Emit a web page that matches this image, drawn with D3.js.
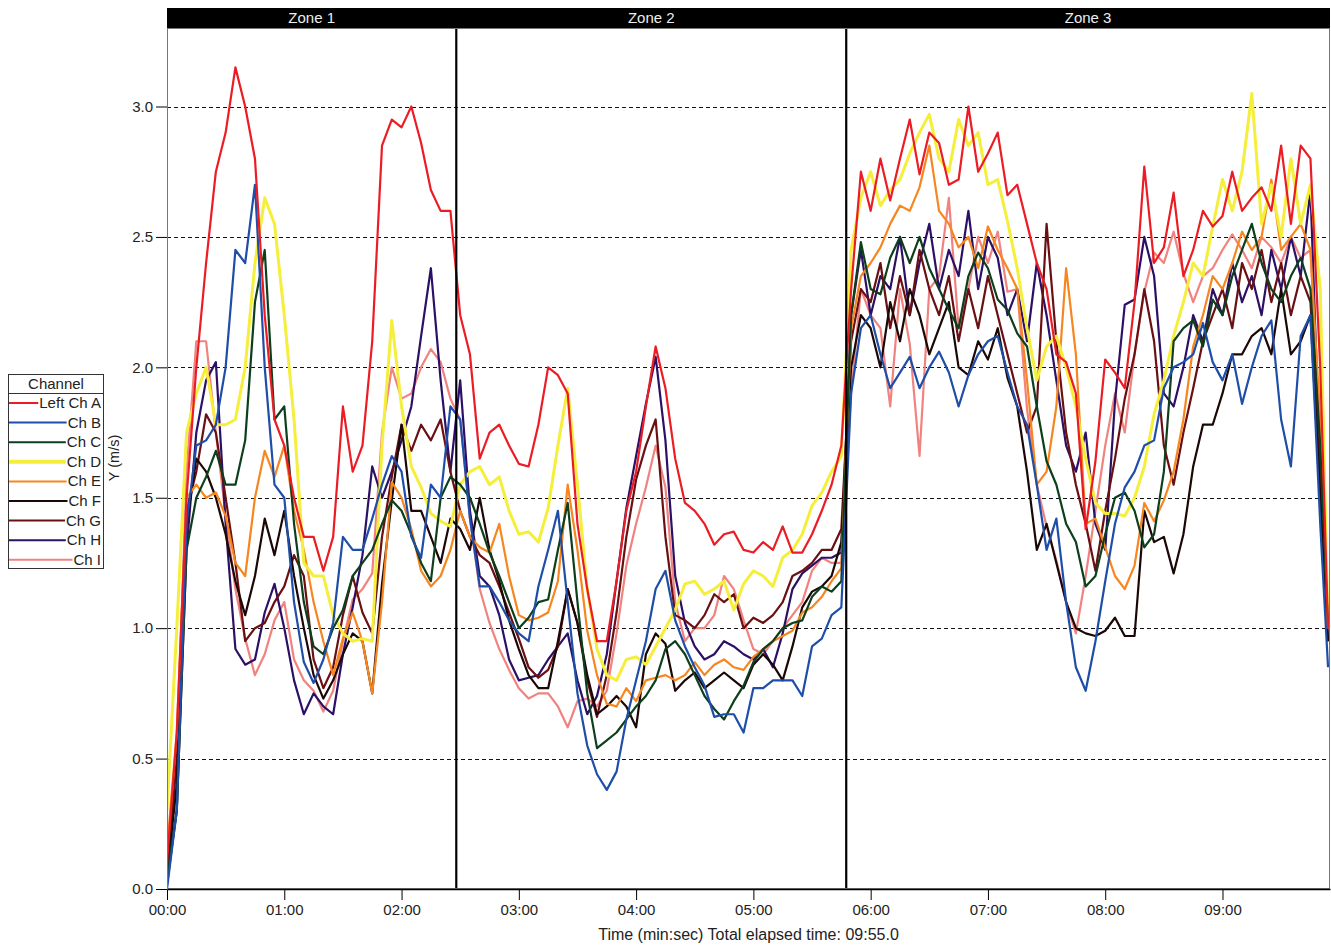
<!DOCTYPE html>
<html><head><meta charset="utf-8">
<script src="https://cdn.jsdelivr.net/npm/d3@7"></script>
<style>
body{margin:0;background:#fff}
svg{display:block}
text{font-family:"Liberation Sans",Arial,sans-serif}
</style>
</head><body>
<svg id="chart" width="1331" height="946"></svg>
<script>
// ---------- data ----------
const channels = ["Left Ch A","Ch B","Ch C","Ch D","Ch E","Ch F","Ch G","Ch H","Ch I"];
const channelColors = ["#ec1c24","#1f4ea8","#0d3f1c","#f5ee3a","#f7861f","#1c0707","#6a0f12","#2b1065","#f0837f"];
const zones = ["Zone 1","Zone 2","Zone 3"];
const zoneBounds = [0,148,347.5,595];
const yTicks = [0,0.5,1.0,1.5,2.0,2.5,3.0];
const xTicks = [0,60,120,180,240,300,360,420,480,540];
const xTickLabels = ["00:00","01:00","02:00","03:00","04:00","05:00","06:00","07:00","08:00","09:00"];
const times = [0,5,10,15,20,25,30,35,40,45,50,55,60,65,70,75,80,85,90,95,
  100,105,110,115,120,125,130,135,140,145,150,155,160,165,170,175,180,185,190,195,
  200,205,210,215,220,225,230,235,240,245,250,255,260,265,270,275,280,285,290,295,
  300,305,310,315,320,325,330,335,340,345,350,355,360,365,370,375,380,385,390,395,
  400,405,410,415,420,425,430,435,440,445,450,455,460,465,470,475,480,485,490,495,
  500,505,510,515,520,525,530,535,540,545,550,555,560,565,570,575,580,585,590,594];

const chA = [0.1,0.6,1.5,2.0,2.4,2.75,2.9,3.15,3.0,2.8,
  2.2,1.8,1.7,1.5,1.35,1.35,1.22,1.35,1.85,1.6,
  1.7,2.1,2.85,2.95,2.92,3.0,2.86,2.68,2.6,2.6,
  2.2,2.05,1.65,1.75,1.78,1.7,1.63,1.62,1.78,2.0,
  1.97,1.9,1.4,1.15,0.95,0.95,1.18,1.45,1.6,1.85,
  2.08,1.92,1.65,1.48,1.45,1.4,1.32,1.36,1.37,1.3,
  1.29,1.33,1.3,1.39,1.29,1.29,1.36,1.45,1.55,1.7,
  2.3,2.75,2.6,2.8,2.64,2.8,2.95,2.74,2.9,2.86,
  2.7,2.72,3.0,2.75,2.82,2.9,2.66,2.7,2.55,2.4,
  2.3,2.05,2.02,1.9,1.38,1.64,2.03,1.98,1.92,2.25,
  2.77,2.4,2.46,2.67,2.35,2.45,2.6,2.54,2.58,2.75,
  2.6,2.65,2.69,2.6,2.85,2.55,2.85,2.8,2.0,1.0];
const chB = [0.0,0.3,1.4,1.7,1.72,1.78,2.0,2.45,2.4,2.7,
  2.0,1.55,1.5,1.1,0.87,0.79,0.88,1.02,1.35,1.3,
  1.3,1.42,1.55,1.66,1.6,1.35,1.27,1.55,1.5,1.85,
  1.8,1.42,1.16,1.16,1.1,1.03,0.98,0.95,1.16,1.3,
  1.45,1.1,0.75,0.55,0.44,0.38,0.45,0.65,0.8,0.95,
  1.15,1.22,1.03,0.93,0.85,0.78,0.66,0.67,0.67,0.6,
  0.77,0.77,0.8,0.8,0.8,0.74,0.93,0.96,1.05,1.08,
  1.9,2.15,2.2,2.05,1.92,1.98,2.04,1.92,2.0,2.06,
  1.98,1.85,1.97,2.05,2.1,2.12,1.98,1.85,1.78,1.55,
  1.3,1.42,1.1,0.85,0.76,0.95,1.18,1.4,1.54,1.6,
  1.7,1.72,1.92,2.0,2.02,2.05,2.17,2.02,1.95,2.05,
  1.86,2.0,2.12,2.18,1.8,1.62,2.12,2.2,1.4,0.85];
const chC = [0.05,0.3,1.3,1.5,1.58,1.68,1.55,1.55,1.72,2.25,
  2.45,1.8,1.85,1.4,1.1,0.93,0.9,1.0,1.07,1.2,
  1.25,1.3,1.4,1.49,1.45,1.36,1.25,1.18,1.5,1.58,
  1.55,1.5,1.4,1.29,1.2,1.1,1.0,1.04,1.1,1.11,
  1.3,1.48,1.1,0.75,0.54,0.57,0.6,0.65,0.7,0.74,
  0.8,0.92,0.95,0.9,0.82,0.74,0.69,0.65,0.72,0.78,
  0.87,0.92,0.95,1.0,1.02,1.03,1.12,1.16,1.14,1.18,
  2.2,2.48,2.3,2.28,2.42,2.5,2.4,2.5,2.38,2.3,
  2.22,2.15,2.35,2.44,2.38,2.26,2.22,2.13,2.08,1.85,
  1.64,1.55,1.4,1.33,1.16,1.2,1.36,1.5,1.52,1.45,
  1.31,1.36,1.6,2.1,2.15,2.18,2.08,2.26,2.2,2.35,
  2.45,2.55,2.4,2.3,2.25,2.35,2.42,2.3,1.7,1.0];
const chD = [0.3,1.0,1.75,1.9,2.0,1.78,1.78,1.8,2.0,2.4,
  2.65,2.55,2.2,1.8,1.25,1.2,1.2,1.05,0.98,0.95,
  0.96,0.95,1.7,2.18,1.85,1.62,1.54,1.44,1.41,1.39,
  1.55,1.6,1.62,1.55,1.58,1.45,1.36,1.37,1.33,1.46,
  1.7,1.92,1.55,1.15,0.92,0.82,0.8,0.88,0.89,0.86,
  0.93,1.0,1.07,1.17,1.18,1.13,1.15,1.18,1.07,1.17,
  1.22,1.2,1.16,1.27,1.3,1.36,1.47,1.52,1.6,1.66,
  2.45,2.65,2.75,2.62,2.68,2.72,2.82,2.9,2.97,2.8,
  2.75,2.95,2.85,2.9,2.7,2.72,2.56,2.38,2.15,1.95,
  2.08,2.12,2.0,1.85,1.65,1.48,1.44,1.44,1.43,1.5,
  1.62,1.82,1.95,2.12,2.25,2.4,2.35,2.54,2.72,2.6,
  2.75,3.05,2.55,2.7,2.5,2.8,2.55,2.7,2.3,1.0];
const chE = [0.15,0.6,1.5,1.55,1.5,1.52,1.43,1.25,1.2,1.5,
  1.68,1.58,1.7,1.45,1.3,1.1,0.95,0.82,0.96,1.06,
  0.95,0.75,1.1,1.56,1.5,1.38,1.22,1.16,1.2,1.3,
  1.45,1.35,1.31,1.29,1.4,1.2,1.05,1.03,1.04,1.06,
  1.18,1.55,1.3,0.99,0.82,0.71,0.7,0.77,0.72,0.8,
  0.81,0.82,0.8,0.82,0.87,0.82,0.86,0.88,0.85,0.84,
  0.89,0.92,0.95,0.97,0.99,1.06,1.08,1.12,1.18,1.23,
  2.15,2.35,2.4,2.46,2.55,2.62,2.6,2.69,2.85,2.6,
  2.55,2.46,2.5,2.38,2.54,2.45,2.38,2.3,1.95,1.55,
  1.6,1.85,2.38,2.05,1.4,1.42,1.31,1.2,1.15,1.24,
  1.48,1.41,1.49,1.6,1.8,2.08,2.2,2.35,2.3,2.4,
  2.52,2.45,2.5,2.72,2.45,2.5,2.55,2.45,1.8,1.0];
const chF = [0.05,0.4,1.4,1.65,1.6,1.5,1.36,1.18,1.05,1.2,
  1.42,1.28,1.45,1.2,1.0,0.82,0.73,0.8,0.9,0.98,
  0.95,0.75,1.17,1.49,1.78,1.45,1.45,1.35,1.25,1.42,
  1.38,1.3,1.5,1.3,1.18,1.03,0.92,0.82,0.77,0.77,
  0.95,1.15,1.02,0.82,0.67,0.7,0.74,0.7,0.62,0.9,
  0.98,0.94,0.76,0.8,0.83,0.77,0.8,0.83,0.8,0.77,
  0.86,0.9,0.86,0.8,0.93,1.08,1.14,1.16,1.2,1.33,
  2.0,2.2,2.15,2.0,2.25,2.1,2.3,2.2,2.05,2.15,
  2.25,2.0,1.97,2.1,2.03,2.15,1.96,1.85,1.6,1.3,
  1.4,1.25,1.1,1.0,0.98,0.97,0.99,1.04,0.97,0.97,
  1.45,1.33,1.35,1.21,1.36,1.62,1.78,1.78,1.9,2.05,
  2.05,2.12,2.15,2.05,2.3,2.05,2.1,2.2,1.5,0.95];
const chG = [0.05,0.5,1.45,1.6,1.82,1.75,1.5,1.25,0.95,1.0,
  1.02,1.1,1.16,1.28,1.2,0.88,0.77,0.85,1.05,1.2,
  1.06,0.98,1.35,1.58,1.78,1.68,1.78,1.72,1.8,1.6,
  1.45,1.35,1.28,1.25,1.16,1.06,0.96,0.85,0.81,0.84,
  0.93,1.15,1.02,0.8,0.66,0.82,1.06,1.35,1.57,1.7,
  1.8,1.35,1.05,1.03,1.0,1.05,1.13,1.1,1.13,1.0,
  1.04,1.02,1.05,1.1,1.2,1.22,1.25,1.3,1.3,1.38,
  2.1,2.3,2.25,2.4,2.15,2.35,2.2,2.45,2.3,2.2,
  2.35,2.1,2.3,2.15,2.35,2.2,2.05,1.9,1.75,1.85,
  2.55,2.1,1.75,1.55,1.4,1.22,1.45,1.65,1.88,2.05,
  2.3,2.1,1.7,1.55,1.75,1.92,2.1,2.2,2.3,2.15,
  2.4,2.3,2.45,2.25,2.4,2.2,2.35,2.25,1.6,1.0];
const chH = [0.02,0.3,1.3,1.75,1.95,2.02,1.4,0.92,0.86,0.88,
  1.06,1.17,1.0,0.8,0.67,0.75,0.7,0.67,0.9,1.08,
  1.28,1.62,1.5,1.6,1.72,1.85,2.12,2.38,1.95,1.6,
  1.95,1.45,1.2,1.16,1.05,0.88,0.8,0.81,0.82,0.88,
  0.93,0.98,0.8,0.67,0.74,0.9,1.18,1.46,1.66,1.86,
  2.04,1.72,1.2,1.02,0.93,0.88,0.9,0.95,0.93,0.9,
  0.88,0.92,0.85,0.98,1.15,1.21,1.24,1.27,1.27,1.29,
  2.2,2.45,2.2,2.35,2.3,2.5,2.2,2.4,2.55,2.3,
  2.45,2.35,2.6,2.3,2.5,2.42,2.2,2.3,2.1,2.4,
  2.2,1.95,1.7,1.6,1.75,1.4,1.3,1.87,2.24,2.26,
  2.5,2.35,1.9,1.85,2.0,2.2,2.1,2.3,2.2,2.4,
  2.25,2.35,2.2,2.45,2.3,2.5,2.35,2.68,1.6,0.95];
const chI = [0.05,0.5,1.6,2.1,2.1,1.75,1.43,1.15,0.96,0.82,
  0.9,1.03,1.1,0.88,0.8,0.76,0.68,0.76,0.95,1.11,
  1.15,1.21,1.75,2.0,1.88,1.9,2.0,2.07,2.02,1.88,
  1.8,1.42,1.15,1.02,0.92,0.84,0.77,0.73,0.75,0.75,
  0.7,0.62,0.72,0.73,0.7,0.76,0.98,1.24,1.4,1.54,
  1.7,1.54,1.1,0.95,1.0,1.0,1.05,1.2,1.15,1.03,
  0.92,0.9,0.95,1.0,1.05,1.1,1.22,1.27,1.25,1.25,
  1.9,2.3,2.2,2.15,1.85,2.3,2.09,1.66,2.3,2.35,
  2.65,2.15,2.3,2.5,2.4,2.52,2.29,2.3,1.84,1.55,
  1.39,1.26,1.1,0.98,1.2,1.45,1.7,1.9,1.75,2.05,
  2.29,2.44,2.4,2.52,2.36,2.25,2.35,2.38,2.45,2.51,
  2.45,2.38,2.5,2.46,2.4,2.5,2.42,2.45,1.7,1.0];
const seriesValues = [chA,chB,chC,chD,chE,chF,chG,chH,chI];

// ---------- layout ----------
const svg = d3.select("#chart");
const L = 167, R = 1330, T = 28, B = 889;
const x = d3.scaleLinear().domain([0,595]).range([L,R]);
const y = d3.scaleLinear().domain([0,3.301]).range([B,T]);

// grid
svg.append("g").selectAll("line").data(yTicks.filter(d=>d>0)).join("line")
  .attr("x1",L).attr("x2",R).attr("y1",d=>Math.round(y(d))+0.5).attr("y2",d=>Math.round(y(d))+0.5)
  .attr("stroke","#111").attr("stroke-width",1).attr("stroke-dasharray","4,3");

// series
const line = d3.line().x((d,i)=>x(times[i])).y(d=>y(d));
const order = [8,7,6,5,4,3,2,1,0];
svg.append("clipPath").attr("id","pc").append("rect").attr("x",L).attr("y",T).attr("width",R-L).attr("height",B-T);
const gs = svg.append("g").attr("clip-path","url(#pc)");
order.forEach(k=>{
  gs.append("path").datum(seriesValues[k]).attr("d",line)
    .attr("fill","none").attr("stroke",channelColors[k])
    .attr("stroke-width",k===3?3:2.2).attr("stroke-linejoin","round");
});

// zone separators
svg.append("g").selectAll("line").data(zoneBounds.slice(1,3)).join("line")
  .attr("x1",d=>x(d)).attr("x2",d=>x(d)).attr("y1",T).attr("y2",B)
  .attr("stroke","#000").attr("stroke-width",2.2);

// frame
svg.append("rect").attr("x",L+0.5).attr("y",T+0.5).attr("width",R-L-1).attr("height",B-T-1)
  .attr("fill","none").attr("stroke","#777").attr("stroke-width",1);

// zone header
svg.append("rect").attr("x",L).attr("y",8).attr("width",R-L).attr("height",T-8).attr("fill","#000");
svg.append("g").selectAll("text").data(zones).join("text")
  .attr("x",(d,i)=>(x(zoneBounds[i])+x(zoneBounds[i+1]))/2).attr("y",23)
  .attr("text-anchor","middle").attr("fill","#eee").attr("font-size",15).text(d=>d);

// axes
const xAxis = svg.append("g").attr("transform",`translate(0,${B})`)
  .call(d3.axisBottom(x).tickValues(xTicks).tickFormat((d,i)=>xTickLabels[i]).tickSize(11).tickSizeOuter(0).tickPadding(4));
xAxis.select(".domain").attr("stroke","#000").attr("stroke-width",1.5);
xAxis.selectAll("text").attr("font-size",15).attr("fill","#222").attr("font-family","Liberation Sans, Arial, sans-serif");
const yAxis = svg.append("g").attr("transform",`translate(${L},0)`)
  .call(d3.axisLeft(y).tickValues(yTicks).tickFormat(d3.format(".1f")).tickSize(11).tickSizeOuter(0).tickPadding(3));
yAxis.select(".domain").attr("stroke","#777");
yAxis.selectAll("text").attr("font-size",15).attr("fill","#222").attr("font-family","Liberation Sans, Arial, sans-serif");

// axis titles
svg.append("text").attr("x",(L+R)/2).attr("y",940).attr("text-anchor","middle")
  .attr("font-size",16).attr("fill","#222").text("Time (min:sec) Total elapsed time: 09:55.0");
svg.append("text").attr("transform","translate(119,458) rotate(-90)").attr("text-anchor","middle")
  .attr("font-size",14.5).attr("fill","#222").text("Y (m/s)");

// legend
const lg = svg.append("g");
lg.append("rect").attr("x",8.5).attr("y",374.5).attr("width",95).attr("height",194)
  .attr("fill","#fff").attr("stroke","#333");
lg.append("line").attr("x1",8.5).attr("x2",103.5).attr("y1",393.5).attr("y2",393.5).attr("stroke","#333");
lg.append("text").attr("x",56).attr("y",389).attr("text-anchor","middle").attr("font-size",15).attr("fill","#222").text("Channel");
channels.forEach((c,i)=>{
  const cy = 403 + i*19.6;
  const t = lg.append("text").attr("x",101).attr("y",cy+5).attr("text-anchor","end")
    .attr("font-size",15).attr("fill","#222").text(c);
  const w = t.node().getComputedTextLength();
  lg.append("line").attr("x1",9).attr("x2",101-w-1).attr("y1",cy).attr("y2",cy)
    .attr("stroke",channelColors[i]).attr("stroke-width",i===3?4:2);
});
</script>
</body></html>
